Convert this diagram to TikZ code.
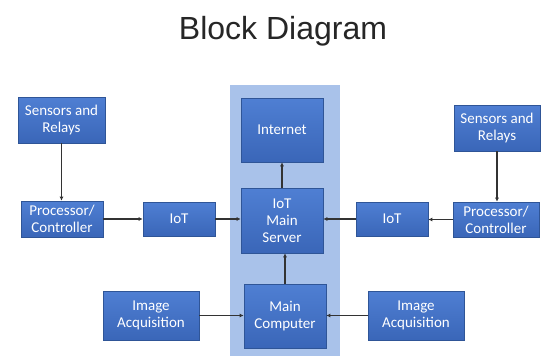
\documentclass[tikz,border=0pt]{standalone}
\usepackage{fontspec}
\setmainfont{Carlito}
\newfontfamily\titlefont{Liberation Sans}
\usetikzlibrary{arrows.meta,shadows}
\definecolor{boxtop}{HTML}{4F7FD3}
\definecolor{boxbot}{HTML}{3A66B8}
\definecolor{boxedge}{HTML}{2F5597}
\definecolor{panelfill}{HTML}{A9C2EA}
\definecolor{linecol}{HTML}{333333}
\tikzset{
  blockbox/.style={draw=boxedge, line width=0.6pt, top color=boxtop, bottom color=boxbot,
    text=white, font=\fontsize{15}{17}\selectfont, align=center, inner sep=1pt,
    drop shadow={shadow xshift=1.2pt, shadow yshift=-1.2pt, opacity=0.3}},
  conn/.style={draw=linecol, line width=1.9pt, -{Latex[length=4pt,width=4pt]}}
}
\begin{document}
\begin{tikzpicture}[x=1pt,y=-1pt]
\useasboundingbox (0,0) rectangle (542,356);
\fill[white] (0,0) rectangle (542,356);
% title
\node[font=\titlefont\fontsize{32}{34}\selectfont, anchor=base, text=black!85] (title) at (283,39) {Block Diagram};
% panel
\node[fill=panelfill, draw=none, minimum width=110pt, minimum height=271pt, inner sep=0pt] (panel) at (285,220.5) {};
% boxes
\node[blockbox, minimum width=87pt, minimum height=46pt] (sensL) at (61.5,120) {Sensors and\\Relays};
\node[blockbox, minimum width=82pt, minimum height=36pt] (procL) at (62,219) {Processor/\\Controller};
\node[blockbox, minimum width=72pt, minimum height=34pt] (iotL) at (179,219) {IoT};
\node[blockbox, minimum width=82pt, minimum height=64pt] (internet) at (282,130) {Internet};
\node[blockbox, minimum width=82pt, minimum height=65pt] (server) at (282,220.5) {IoT\\Main\\Server};
\node[blockbox, minimum width=72pt, minimum height=34pt] (iotR) at (392,219) {IoT};
\node[blockbox, minimum width=86pt, minimum height=35pt] (procR) at (496,219.5) {Processor/\\Controller};
\node[blockbox, minimum width=86pt, minimum height=46pt] (sensR) at (497,128) {Sensors and\\Relays};
\node[blockbox, minimum width=82pt, minimum height=64pt] (maincomp) at (285,316) {Main\\Computer};
\node[blockbox, minimum width=96pt, minimum height=49pt] (imgL) at (151,315.5) {Image\\Acquisition};
\node[blockbox, minimum width=96pt, minimum height=49pt] (imgR) at (416,315.5) {Image\\Acquisition};
% connectors
\draw[conn] (sensL.south) -- (sensL.south |- procL.north);
\draw[conn] (procL.east) -- (iotL.west);
\draw[conn] (iotL.east) -- (server.west |- iotL.east);
\draw[conn] (sensR.south) -- (sensR.south |- procR.north);
\draw[conn] (procR.west) -- (procR.west -| iotR.east);
\draw[conn] (iotR.west) -- (server.east |- iotR.west);
\draw[conn] (server.north) -- (internet.south);
\draw[conn] (maincomp.north) -- (maincomp.north |- server.south);
\draw[conn] (imgL.east) -- (maincomp.west |- imgL.east);
\draw[conn] (imgR.west) -- (maincomp.east |- imgR.west);
\end{tikzpicture}
\end{document}
